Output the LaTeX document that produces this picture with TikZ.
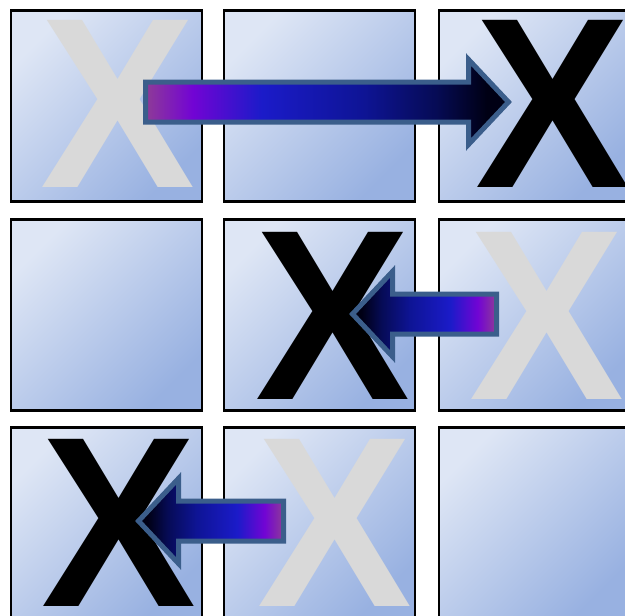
\documentclass[tikz,border=0pt]{standalone}
\usepackage{fontspec}
\usepackage{tikz}
\usetikzlibrary{calc}
\newfontfamily\markfont{Liberation Sans}
\definecolor{celltop}{HTML}{DEE6F5}
\definecolor{cellbot}{HTML}{98B1E1}
\definecolor{markgray}{HTML}{D9D9D9}
\definecolor{arrowedge}{HTML}{3B5E8B}
\definecolor{agA}{HTML}{8E3B97}
\definecolor{agB}{HTML}{7204D4}
\definecolor{agC}{HTML}{1B1BC9}
\definecolor{agD}{HTML}{0E1495}
\definecolor{agE}{HTML}{060B55}
\definecolor{agF}{HTML}{000014}
\pgfdeclarehorizontalshading{arrowgrad}{100bp}{color(0bp)=(agA); color(25bp)=(agA);
  color(31.5bp)=(agB); color(41bp)=(agC); color(55bp)=(agD); color(65bp)=(agE);
  color(72bp)=(agF); color(100bp)=(agF)}
\newcommand{\blockarrow}[3]{% #1 tail, #2 tip, #3 = 1 right / -1 left
  \path[arrowbody, shading angle={90-90*(#3)}]
    ([yshift=20pt]#1) -- ([xshift={-40pt*(#3)}, yshift=20pt]#2)
    -- ([xshift={-40pt*(#3)}, yshift=42.5pt]#2) -- (#2)
    -- ([xshift={-40pt*(#3)}, yshift=-42.5pt]#2)
    -- ([xshift={-40pt*(#3)}, yshift=-20pt]#2)
    -- ([yshift=-20pt]#1) -- cycle;}
\newcommand{\markX}{\scalebox{0.955}[1]{X}}

\begin{document}
\begin{tikzpicture}[
      x=1pt, y=-1pt,
      cellbox/.style={rectangle, draw=black, line width=2.5pt, minimum size=191pt,
                      inner sep=0pt, outer sep=0pt, shading=axis, top color=celltop,
                      bottom color=cellbot, shading angle=45},
      xmark/.style={inner sep=0pt, outer sep=0pt,
                    font=\markfont\bfseries\fontsize{243pt}{250pt}\selectfont},
      arrowbody/.style={draw=arrowedge, line width=5pt, line join=miter, shading=arrowgrad}
    ]
      \useasboundingbox (0,0) rectangle (625,616);
      \clip (0,0) rectangle (625,616);
      \foreach \c/\x in {1/106.25, 2/319.25, 3/534.25}
        \foreach \r/\y in {1/105.75, 2/314.75, 3/522.75}
          \node[cellbox] (c\r\c) at (\x,\y) {};
      \node[xmark, text=markgray] (x11) at (118,104) {\markX};
      \node[xmark, text=black]    (x13) at (553,104) {\markX};
      \node[xmark, text=black]    (x22) at (332.5,316) {\markX};
      \node[xmark, text=markgray] (x23) at (546.5,316) {\markX};
      \node[xmark, text=black]    (x31) at (119,523) {\markX};
      \node[xmark, text=markgray] (x32) at (334.5,523) {\markX};
      \coordinate (a1tail) at (145.5,102);
      \coordinate (a1tip)  at (508.5,102);
      \coordinate (a2tail) at (496.5,314);
      \coordinate (a2tip)  at (352.5,314);
      \coordinate (a3tail) at (283.5,521);
      \coordinate (a3tip)  at (138.5,521);
      \blockarrow{a1tail}{a1tip}{1}
      \blockarrow{a2tail}{a2tip}{-1}
      \blockarrow{a3tail}{a3tip}{-1}
    \end{tikzpicture}
\end{document}
